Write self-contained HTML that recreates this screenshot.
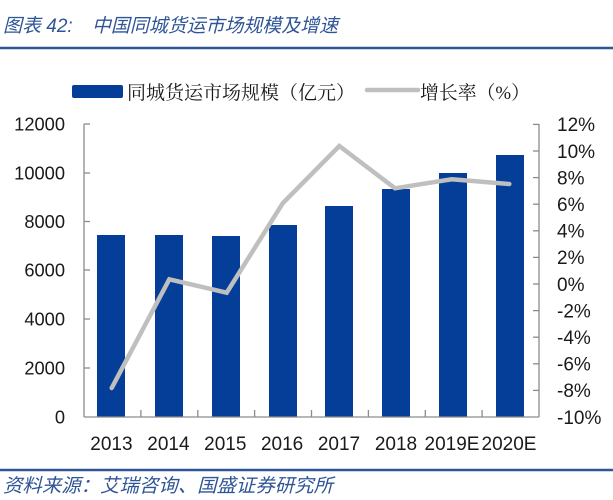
<!DOCTYPE html>
<html>
<head>
<meta charset="utf-8">
<style>
  html, body { margin: 0; padding: 0; background: #ffffff; }
  svg { display: block; }
  .cjk { font-family: "Liberation Sans", "Noto Sans CJK SC", sans-serif; }
  .cjks { font-family: "Liberation Serif", "Noto Serif CJK SC", serif; }
  .num { font-family: "Liberation Sans", sans-serif; fill: #1a1a1a; }
</style>
</head>
<body>
<svg width="613" height="500" viewBox="0 0 613 500" xmlns="http://www.w3.org/2000/svg">
  <rect x="0" y="0" width="613" height="500" fill="#ffffff"/>

  <!-- Title -->
  <text x="3" y="32" class="cjk" font-size="19" font-style="italic" fill="#2f5597">图表 42:</text>
  <text x="92" y="32" class="cjk" font-size="19" font-style="italic" fill="#2f5597" textLength="246" lengthAdjust="spacingAndGlyphs">中国同城货运市场规模及增速</text>
  <line x1="0" y1="48" x2="613" y2="48" stroke="#2f5597" stroke-width="2.5"/>

  <!-- Legend -->
  <rect x="72" y="85" width="51" height="13" rx="2" fill="#043e99"/>
  <text x="127" y="99" class="cjks" font-size="19" fill="#1a1a1a" textLength="228" lengthAdjust="spacingAndGlyphs">同城货运市场规模（亿元）</text>
  <line x1="367" y1="90" x2="418" y2="90" stroke="#bfbfbf" stroke-width="4.5" stroke-linecap="round"/>
  <text x="420" y="99" class="cjks" font-size="19" fill="#1a1a1a" textLength="110" lengthAdjust="spacingAndGlyphs">增长率（%）</text>

  <!-- Bars -->
  <g fill="#043e99">
    <rect x="97"  y="235" width="28" height="182"/>
    <rect x="155" y="235" width="28" height="182"/>
    <rect x="212" y="236" width="28" height="181"/>
    <rect x="269" y="225" width="28" height="192"/>
    <rect x="325" y="206" width="28" height="211"/>
    <rect x="382" y="189" width="28" height="228"/>
    <rect x="439" y="173" width="28" height="244"/>
    <rect x="496" y="155" width="28" height="262"/>
  </g>

  <!-- Axes -->
  <g stroke="#8c8c8c" stroke-width="1.3" fill="none">
    <line x1="84" y1="124" x2="84" y2="417"/>
    <line x1="539" y1="124" x2="539" y2="417"/>
    <line x1="84" y1="417" x2="539" y2="417"/>
    <line x1="84" y1="124" x2="90" y2="124"/>
    <line x1="84" y1="173" x2="90" y2="173"/>
    <line x1="84" y1="221.5" x2="90" y2="221.5"/>
    <line x1="84" y1="270" x2="90" y2="270"/>
    <line x1="84" y1="319" x2="90" y2="319"/>
    <line x1="84" y1="368" x2="90" y2="368"/>
    <line x1="533" y1="124.4" x2="539" y2="124.4"/>
    <line x1="533" y1="151" x2="539" y2="151"/>
    <line x1="533" y1="177.6" x2="539" y2="177.6"/>
    <line x1="533" y1="204.2" x2="539" y2="204.2"/>
    <line x1="533" y1="230.8" x2="539" y2="230.8"/>
    <line x1="533" y1="257.4" x2="539" y2="257.4"/>
    <line x1="533" y1="284" x2="539" y2="284"/>
    <line x1="533" y1="310.6" x2="539" y2="310.6"/>
    <line x1="533" y1="337.2" x2="539" y2="337.2"/>
    <line x1="533" y1="363.8" x2="539" y2="363.8"/>
    <line x1="533" y1="390.4" x2="539" y2="390.4"/>
    <line x1="140.9" y1="410" x2="140.9" y2="417"/>
    <line x1="197.8" y1="410" x2="197.8" y2="417"/>
    <line x1="254.6" y1="410" x2="254.6" y2="417"/>
    <line x1="311.5" y1="410" x2="311.5" y2="417"/>
    <line x1="368.4" y1="410" x2="368.4" y2="417"/>
    <line x1="425.3" y1="410" x2="425.3" y2="417"/>
    <line x1="482.1" y1="410" x2="482.1" y2="417"/>
  </g>

  <!-- Growth line -->
  <polyline points="111.7,388 169.3,279.3 226.7,292.7 282.7,203.3 339.3,146 395,188.3 451.7,179.3 509.3,184"
            fill="none" stroke="#bfbfbf" stroke-width="4.5" stroke-linejoin="miter" stroke-linecap="round"/>

  <!-- Left axis labels -->
  <g class="num" font-size="18.3" text-anchor="end">
    <text x="65" y="130.5">12000</text>
    <text x="65" y="179.5">10000</text>
    <text x="65" y="228">8000</text>
    <text x="65" y="276.5">6000</text>
    <text x="65" y="325.5">4000</text>
    <text x="65" y="374.5">2000</text>
    <text x="65" y="423.5">0</text>
  </g>

  <!-- Right axis labels -->
  <g class="num" font-size="19">
    <text x="557" y="131.2">12%</text>
    <text x="557" y="157.8">10%</text>
    <text x="557" y="184.4">8%</text>
    <text x="557" y="211">6%</text>
    <text x="557" y="237.6">4%</text>
    <text x="557" y="264.2">2%</text>
    <text x="557" y="290.8">0%</text>
    <text x="557" y="317.4">-2%</text>
    <text x="557" y="344">-4%</text>
    <text x="557" y="370.6">-6%</text>
    <text x="557" y="397.2">-8%</text>
    <text x="557" y="423.8">-10%</text>
  </g>

  <!-- X axis labels -->
  <g class="num" font-size="19" text-anchor="middle">
    <text x="111.4" y="450">2013</text>
    <text x="168.4" y="450">2014</text>
    <text x="225.3" y="450">2015</text>
    <text x="282.1" y="450">2016</text>
    <text x="339" y="450">2017</text>
    <text x="396" y="450">2018</text>
    <text x="452" y="450">2019E</text>
    <text x="509" y="450">2020E</text>
  </g>

  <!-- Source -->
  <line x1="0" y1="470" x2="613" y2="470" stroke="#2f5597" stroke-width="2.5"/>
  <text x="3" y="492" class="cjk" font-size="19" font-style="italic" fill="#2f5597" textLength="330" lengthAdjust="spacingAndGlyphs">资料来源：艾瑞咨询、国盛证券研究所</text>
</svg>
</body>
</html>
